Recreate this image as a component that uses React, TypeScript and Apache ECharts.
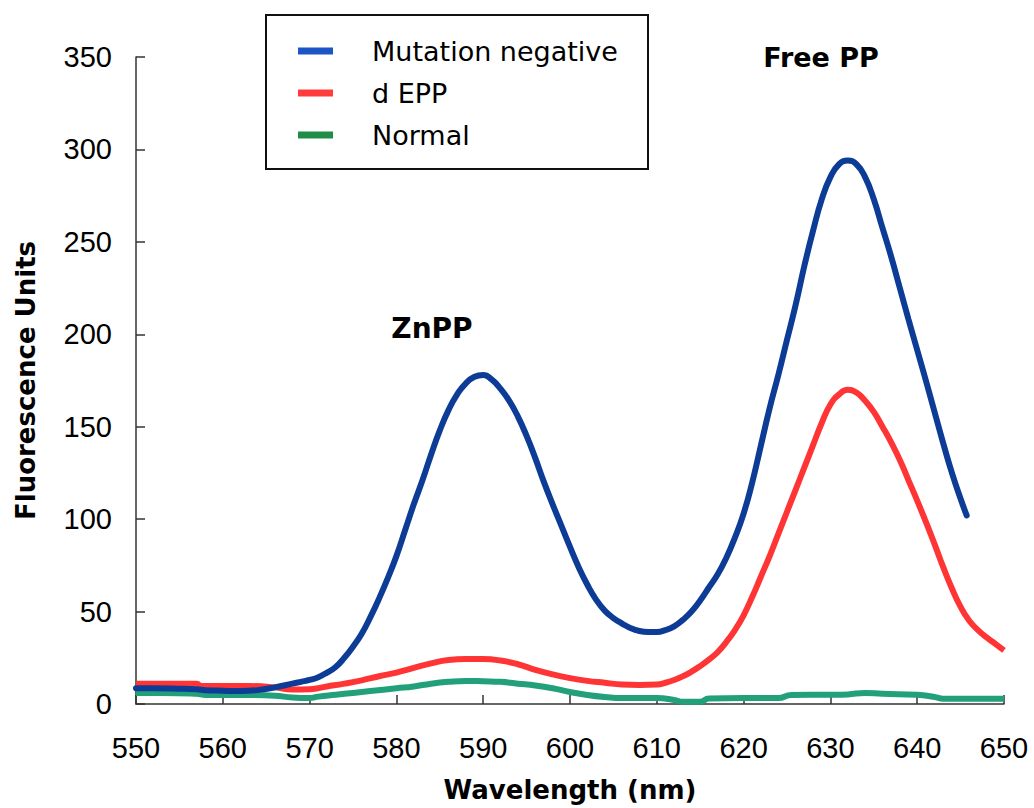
import React, { useEffect, useRef } from "react";
import * as echarts from "echarts";

const seriesNames = ["Mutation negative", "d EPP", "Normal"];
const xTicks = [550, 560, 570, 580, 590, 600, 610, 620, 630, 640, 650];
const yTicks = [0, 50, 100, 150, 200, 250, 300, 350];

const mutationNegative: [number, number][] = [
  [550, 8.5], [552, 8.5], [555, 8.3], [557, 8], [558, 7.5], [560, 7.2], [562, 7], [564, 7.5],
  [566, 9], [568, 11], [569, 12], [570, 13], [571, 14.5], [572, 17], [573, 20], [574, 25],
  [575, 31], [576, 38], [577, 47], [578, 57], [579, 68], [580, 80], [581, 94], [582, 108],
  [583, 121], [584, 135], [585, 148], [586, 159], [587, 167.5], [588, 173.5], [589, 177],
  [590, 178], [591, 175.5], [592, 170.5], [593, 164], [594, 155.5], [595, 145], [596, 133],
  [597, 120], [598, 108], [599, 96.5], [600, 85], [601, 74], [602, 64.5], [603, 56.5], [604, 50.5],
  [605, 46.5], [606, 43.5], [607, 41], [608, 39.5], [609, 39], [610, 39], [611, 40],
  [612, 42], [613, 45.5], [614, 50], [615, 56], [616, 63], [617, 70], [618, 79], [619, 90],
  [620, 103], [621, 120], [622, 140], [623, 160], [624, 178], [625, 197], [626, 216],
  [627, 237], [628, 256], [629, 273], [630, 285], [631, 292], [632, 294], [633, 292],
  [634, 285], [635, 273], [636, 257.5], [637, 242], [638, 225], [639, 208], [640, 191.5],
  [641, 175], [642, 158], [643, 141], [644, 125], [645, 111], [645.7, 102],
];

const dEPP: [number, number][] = [
  [550, 11], [553, 11], [557, 11], [557.5, 9.7], [560, 9.7], [563, 9.7], [566, 9], [568, 7.8],
  [570, 8], [572, 9.5], [574, 11], [576, 12.8], [578, 15], [580, 17], [582, 19.5], [584, 22],
  [586, 23.8], [588, 24.3], [590, 24.3], [592, 23.5], [594, 21.5], [596, 18.5], [598, 16],
  [600, 14], [602, 12.5], [604, 11.5], [606, 10.5], [608, 10.3], [610, 10.5], [611, 11.5],
  [612, 13], [613, 15], [614, 17.5], [615, 20.5], [616, 24], [617, 28], [618, 33.5], [619, 40],
  [620, 48], [621, 58], [622, 69], [623, 80], [624, 92], [625, 104], [626, 116], [627, 128],
  [628, 140], [629, 152], [630, 162], [631, 167.5], [632, 170], [633, 168.5], [634, 164],
  [635, 158], [636, 150], [637, 141.5], [638, 132], [639, 121], [640, 110], [641, 98.5],
  [642, 86.5], [643, 74], [644, 62.5], [645, 52.5], [646, 45], [647, 40], [648, 36], [649, 32.5],
  [650, 29],
];

const normal: [number, number][] = [
  [550, 6], [553, 6], [557, 5.5], [558, 4.9], [562, 4.9], [566, 4.5], [568, 3.5], [570, 3.2],
  [571, 4], [573, 5], [575, 6], [577, 7], [580, 8.5], [582, 9.5], [584, 11], [586, 12],
  [588, 12.5], [590, 12.3], [592, 12], [594, 11], [596, 10], [598, 8.5], [600, 6.5],
  [602, 4.9], [604, 3.8], [606, 3.2], [610, 3.2], [612, 2.2], [613, 1.2], [615, 1.2],
  [616, 3], [620, 3.2], [624, 3.2], [625.5, 4.9], [630, 5], [632, 5.2], [634, 6], [636, 5.5],
  [640, 5], [642, 3.8], [643, 2.9], [646, 2.8], [650, 2.8],
];

const annotations = ["ZnPP", "Free PP"];

const FONT = "DejaVu Sans";
const TICKFONT = "Liberation Sans";

export default function App() {
  const ref = useRef<HTMLDivElement>(null);
  useEffect(() => {
    if (!ref.current) return;
    const chart = echarts.init(ref.current, null, { renderer: "svg" });
    const axisLine = { show: true, lineStyle: { color: "#333", width: 1.5 } };
    chart.setOption({
      animation: false,
      backgroundColor: "#fff",
      grid: { left: 136, right: 30, top: 57, bottom: 104, containLabel: false },
      xAxis: {
        type: "value",
        min: xTicks[0],
        max: xTicks[xTicks.length - 1],
        interval: 10,
        axisLine,
        axisTick: { show: true, inside: true, length: 9, lineStyle: { color: "#333", width: 1.5 } },
        splitLine: { show: false },
        axisLabel: { color: "#000", fontFamily: TICKFONT, fontSize: 29, margin: 29 },
        name: "Wavelength (nm)",
        nameLocation: "middle",
        nameGap: 73,
        nameTextStyle: { color: "#000", fontFamily: FONT, fontSize: 26, fontWeight: "bold" },
      },
      yAxis: {
        type: "value",
        min: yTicks[0],
        max: yTicks[yTicks.length - 1],
        interval: 50,
        axisLine,
        axisTick: { show: true, inside: true, length: 9, lineStyle: { color: "#333", width: 1.5 } },
        splitLine: { show: false },
        axisLabel: { color: "#000", fontFamily: TICKFONT, fontSize: 29, margin: 24 },
        name: "Fluorescence Units",
        nameLocation: "middle",
        nameGap: 97,
        nameTextStyle: { color: "#000", fontFamily: FONT, fontSize: 26, fontWeight: "bold" },
      },
      legend: {
        orient: "vertical",
        left: 298,
        top: 36,
        padding: 0,
        itemGap: 12,
        itemWidth: 35,
        itemHeight: 7,
        icon: "rect",
        textStyle: { color: "#000", fontFamily: FONT, fontSize: 27, lineHeight: 30, padding: [0, 0, 0, 34] },
        data: [
          { name: seriesNames[0], itemStyle: { color: "#1d55c6" } },
          { name: seriesNames[1], itemStyle: { color: "#ff3b3b" } },
          { name: seriesNames[2], itemStyle: { color: "#1f8c48" } },
        ],
      },
      graphic: [
        {
          type: "rect",
          left: 265,
          top: 14,
          shape: { width: 382, height: 154 },
          style: { fill: "#fff", stroke: "#111", lineWidth: 2 },
          z: 0,
        },
        {
          type: "text",
          x: 432,
          y: 328,
          style: {
            text: annotations[0],
            fill: "#000",
            font: `bold 28px '${FONT}'`,
            textAlign: "center",
            textVerticalAlign: "middle",
          },
        },
        {
          type: "text",
          x: 821,
          y: 57,
          style: {
            text: annotations[1],
            fill: "#000",
            font: `bold 27px '${FONT}'`,
            textAlign: "center",
            textVerticalAlign: "middle",
          },
        },
      ],
      series: [
        {
          name: seriesNames[2],
          type: "line",
          data: normal,
          showSymbol: false,
          smooth: 0.5,
          lineStyle: { color: "#22a07a", width: 6 },
          itemStyle: { color: "#22a07a" },
        },
        {
          name: seriesNames[1],
          type: "line",
          data: dEPP,
          showSymbol: false,
          smooth: 0.5,
          lineStyle: { color: "#ff3535", width: 6 },
          itemStyle: { color: "#ff3535" },
        },
        {
          name: seriesNames[0],
          type: "line",
          data: mutationNegative,
          showSymbol: false,
          smooth: 0.5,
          lineStyle: { color: "#0d3c96", width: 6, cap: "round" },
          itemStyle: { color: "#0d3c96" },
        },
      ],
    });
    return () => chart.dispose();
  }, []);
  return <div ref={ref} style={{ width: 1034, height: 808, position: "absolute", left: 0, top: 0 }} />;
}
